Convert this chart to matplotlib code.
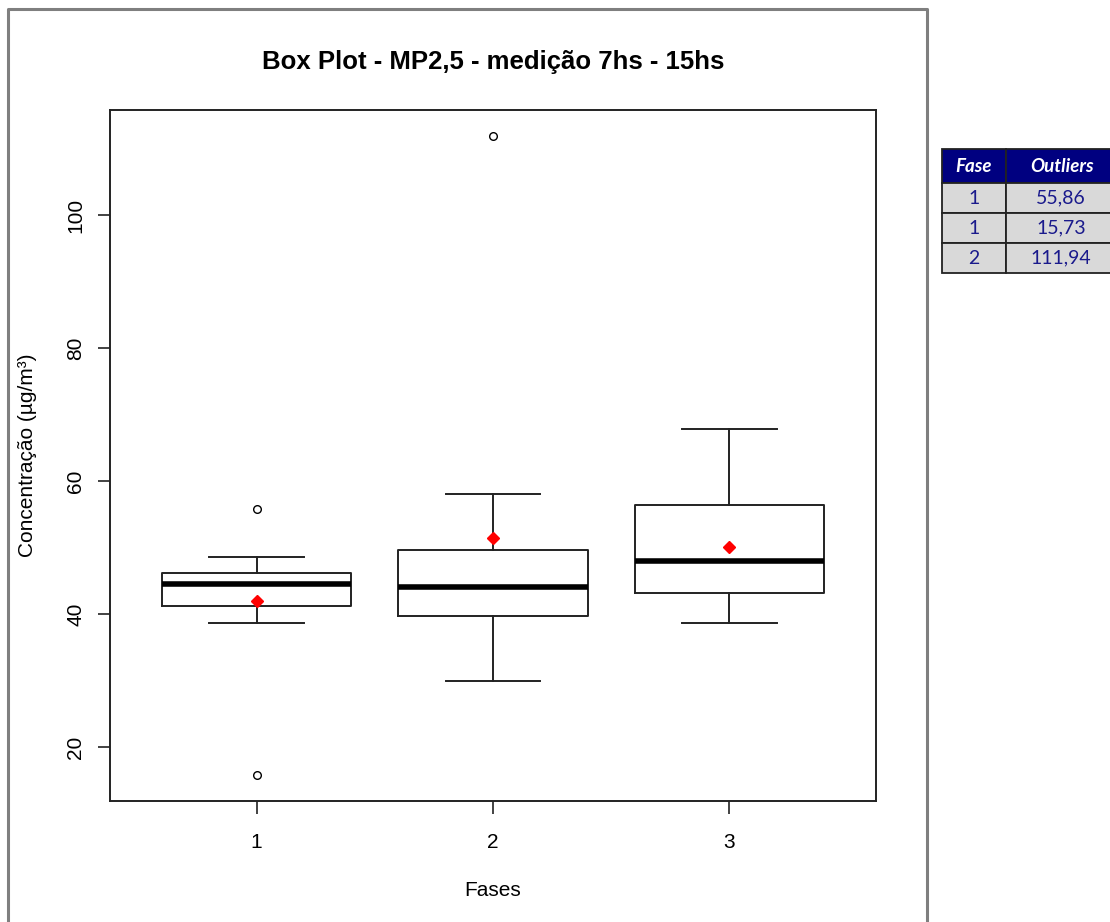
import matplotlib
matplotlib.use("Agg")
import matplotlib.pyplot as plt
from matplotlib.lines import Line2D
from matplotlib.patches import Rectangle

# ---- data ----
fases = ["1", "2", "3"]
whisker_low = [38.6, 29.95, 38.6]
q1 = [41.2, 39.65, 43.1]
median = [44.5, 44.1, 48.0]
q3 = [46.2, 49.7, 56.4]
whisker_high = [48.6, 58.1, 67.8]
means = [42.0, 51.4, 50.1]
outliers = [[55.86, 15.73], [111.94], []]

table_header = ["Fase", "Outliers"]
table_fase = ["1", "1", "2"]
table_outliers = ["55,86", "15,73", "111,94"]

plt.rcParams['font.family'] = ['Liberation Sans', 'DejaVu Sans']

W, H = 1110, 922
fig = plt.figure(figsize=(W / 100, H / 100), dpi=100)
fig.patch.set_facecolor("white")

def fx(px):
    return px / W

def fy(py):
    return 1 - py / H

# outer gray frame of the R graphics region
fig.add_artist(Line2D([fx(8), fx(8), fx(927), fx(927)], [fy(925), fy(9), fy(9), fy(925)],
                      transform=fig.transFigure, color="#7f7f7f", lw=2.2))

ax = fig.add_axes([fx(110), fy(801), fx(876) - fx(110), fy(110) - fy(801)])

stats = []
for i in range(len(fases)):
    stats.append(dict(med=median[i], q1=q1[i], q3=q3[i], whislo=whisker_low[i],
                      whishi=whisker_high[i], fliers=outliers[i], mean=means[i], label=fases[i]))

positions = list(range(1, len(fases) + 1))
ax.bxp(stats, positions=positions, widths=0.8, capwidths=0.4, showmeans=True,
       boxprops=dict(color="#222222", lw=1.4),
       whiskerprops=dict(color="#222222", lw=1.4, linestyle="-"),
       capprops=dict(color="#222222", lw=1.4),
       medianprops=dict(color="black", lw=4, solid_capstyle="butt"),
       meanprops=dict(marker="D", markerfacecolor="red", markeredgecolor="red", markersize=6),
       flierprops=dict(marker="o", markerfacecolor="none", markeredgecolor="black",
                       markersize=5.5, markeredgewidth=1.0))

allvals = whisker_low + whisker_high + [v for o in outliers for v in o]
lo, hi = min(allvals), max(allvals)
pad = 0.04 * (hi - lo)
ax.set_ylim(lo - pad, hi + pad)
ax.set_xlim(0.5 - 0.12, len(fases) + 0.5 + 0.12)

ax.set_yticks([20, 40, 60, 80, 100])
ax.set_xticks(positions)
ax.set_xticklabels(fases)
for lab in ax.get_yticklabels():
    lab.set_rotation(90)
    lab.set_va("center")
ax.tick_params(axis="both", labelsize=15, length=9, width=1.2, color="#222222", direction="out")
ax.tick_params(axis="y", pad=9)
ax.tick_params(axis="x", pad=14)
for s in ax.spines.values():
    s.set_linewidth(1.4)
    s.set_color("#222222")

ax.set_xlabel("Fases", fontsize=15, labelpad=21)
fig.text(fx(28), fy(455), "Concentração (µg/m³)", rotation=90, fontsize=15,
         ha="center", va="center")
fig.text(fx(493), fy(62), "Box Plot - MP2,5 - medição 7hs - 15hs", fontsize=18.5,
         fontweight="bold", ha="center", va="center")

# ---- outlier table ----
col_x = [942, 1006, 1120]
row_y = [149, 183, 213, 243, 273]
navy = "#000080"
tfont = ['Lato', 'DejaVu Sans']
for r in range(4):
    y0, y1 = row_y[r], row_y[r + 1]
    for c in range(2):
        x0, x1 = col_x[c], col_x[c + 1]
        face = navy if r == 0 else "#d9d9d9"
        fig.add_artist(Rectangle((fx(x0), fy(y1)), fx(x1) - fx(x0), fy(y0) - fy(y1),
                                 transform=fig.transFigure, facecolor=face,
                                 edgecolor="#222222", lw=1.3))
        if r == 0:
            txt = table_header[c]
            fig.text(fx((x0 + min(x1, 1118)) / 2), fy((y0 + y1) / 2 + 1), txt, color="white",
                     fontsize=13.5, fontweight="bold", fontstyle="italic",
                     ha="center", va="center", family=tfont)
        else:
            txt = table_fase[r - 1] if c == 0 else table_outliers[r - 1]
            fig.text(fx((x0 + min(x1, 1116)) / 2), fy((y0 + y1) / 2), txt, color="#1a1a8c",
                     fontsize=14, ha="center", va="center", family=tfont)

fig.savefig("out.png", dpi=100)
